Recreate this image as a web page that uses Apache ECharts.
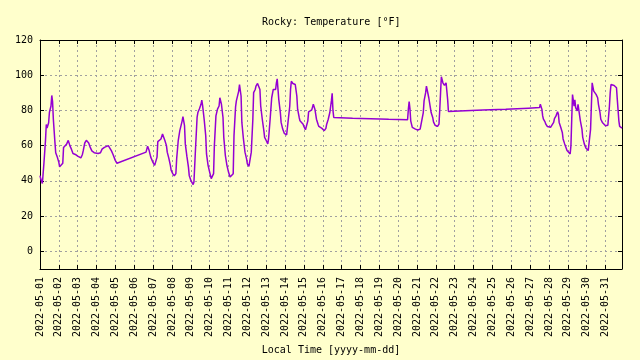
<!DOCTYPE html>
<html>
<head>
<meta charset="utf-8">
<script src="https://cdn.jsdelivr.net/npm/echarts@6/dist/echarts.min.js"></script>
<style>
html,body{margin:0;padding:0;background:#ffffcc;}
#chart{width:640px;height:360px;}
</style>
</head>
<body>
<div id="chart"></div>
<script>
// ---- data ----
const chartTitle = 'Rocky: Temperature [°F]';
const xAxisTitle = 'Local Time [yyyy-mm-dd]';
const startDateUTC = Date.UTC(2022, 4, 1);   // 2022-05-01 00:00
const endHours = 741;                        // last sample, hours after start
const yTickValues = [0, 20, 40, 60, 80, 100, 120];

// hours after 2022-05-01 00:00
const hoursSinceStart = [
  0,1,3,5,7,8,9,11,12,14,15,16,17,19,20,22,24,25,27,29,30,32,34,36,37,38,40,42,45,48,
  50,52,54,55,57,59,60,62,64,66,69,71,74,77,79,82,84,87,88,91,93,96,98,99,
  135,137,139,141,144,146,147,149,150,152,154,156,157,159,161,162,164,166,167,169,
  171,173,174,176,178,179,181,182,184,185,187,189,190,192,195,196,198,200,201,203,
  205,206,207,209,211,212,214,216,218,219,221,222,224,226,228,229,231,233,234,236,
  238,240,242,244,246,247,249,250,251,253,254,256,257,259,261,263,264,266,268,269,
  271,272,274,275,277,278,280,281,283,285,286,288,290,291,293,295,297,298,300,301,
  302,304,306,307,309,311,312,314,316,318,319,320,322,324,325,327,328,330,331,333,
  335,336,338,339,341,342,344,346,348,349,350,352,354,355,357,359,360,362,364,365,
  367,369,371,372,373,374,
  398,444,468,469,470,471,472,474,476,478,479,481,483,484,486,488,489,491,492,494,
  495,497,498,500,501,503,505,506,508,509,510,511,513,514,515,517,518,519,520,
  534,564,593,622,636,637,638,639,640,641,643,644,646,648,650,652,654,655,657,659,
  660,661,663,665,666,668,670,671,673,675,676,677,678,680,681,682,684,685,686,688,
  690,691,693,695,696,698,700,701,702,703,705,707,708,710,711,713,714,716,718,720,
  721,723,725,726,727,729,731,732,734,735,737,738,739,741
];

// temperature [°F]
const temperatureF = [
  43,41,38.5,50,63,72,70,73,79,82.5,88.5,85,75,62,56,53.5,50.5,48,47,50,59,58.5,61,63,64,60,58,55.5,55,54,
  53.5,53,55,57,61.5,63,63,61.5,59,57,56,56,55.5,56,58,59,59.5,60,59,57,55,51.5,50,51,
  56.3,59.7,57.2,53.5,50.3,48.8,49.7,53.5,62.3,62.9,63.8,66.6,65.7,62.9,60,56.3,52.9,48.8,46,44.1,
  42.8,44.1,52.5,62.9,68.5,69.4,74.1,76.5,71.3,61,54,47.8,43.1,40.3,37.9,39.4,58.2,76,78.8,81,
  83.5,85.9,82.9,75,65.7,55.3,48.8,45,41.3,40.9,44.1,60,76.9,80.7,82.5,87.2,83.5,76,64.7,54.4,
  48.8,45,42.2,41.3,44.1,65.7,82,85.4,86.3,91,94.7,88.2,73.2,63.8,56.3,52.5,49.7,48.2,48.8,56.3,
  75,90.1,91.9,93.8,95.3,96,91.9,82.5,75,68.5,64.7,62.9,61,63.8,75,87.2,91.9,92.9,91.9,95.7,
  97.9,86.3,78.8,73.2,69.4,67,66.1,66.1,66.6,82.5,91.9,96.6,95.3,95.3,94.7,88.2,80.7,76,74.1,73.5,
  72.2,70.9,69,69.8,74.1,79.2,79.7,80.3,83.5,84.4,80.7,75,72.2,70.9,70.4,69.8,69,68.5,69.8,72.2,
  75,78.8,85.4,89.7,80,76,
  75.6,75,74.7,80.7,85,81,74.1,70.4,69.8,69.4,69,68.9,68.1,69.4,74.1,78.8,85.4,90.1,93.8,94.7,
  87.2,81.6,78.8,76,73.5,71.6,70.9,70.9,72.2,80.7,90.1,99.1,95.7,96.6,94.2,95.7,94.7,86.3,79.4,
  79.7,80.2,80.7,81.3,81.6,83.5,84.4,80.7,76.9,75,73.5,72.2,70.9,70.4,70.4,71.3,73.2,75.4,76.9,79.2,
  77.9,73.2,70.4,67.5,63.8,61,58.5,57.2,56.3,55.3,60,75,89,82.5,86,81.6,79.7,83.5,82.5,74.1,
  69.4,64.7,61,58.7,57.8,57.2,58.2,69.4,82.5,95.7,91,90.1,89.1,87.2,83.5,78.8,75,73.2,72.2,71.3,
  71.3,71.6,82.5,90.1,94.7,93.8,94.2,93.8,92.9,86.3,74.1,70.9,70.4,70
];

// ---- chart ----
const HOUR = 3600000, DAY = 86400000;
const FONT = '"DejaVu Sans Mono", "Liberation Mono", monospace';
const seriesData = hoursSinceStart.map((h, i) => [startDateUTC + h * HOUR, temperatureF[i]]);
const xMin = startDateUTC, xMax = startDateUTC + endHours * HOUR;

const gridLine = { show: true, lineStyle: { color: '#a0a0a0', width: 1, type: [2, 3] } };
const dateFmt = v => ((v - startDateUTC) % DAY === 0) ? new Date(v).toISOString().slice(0, 10) : '';
const yFmt = v => (yTickValues.indexOf(v) >= 0 ? String(v) : '');

const chart = echarts.init(document.getElementById('chart'), null, { renderer: 'canvas' });
chart.setOption({
  animation: false,
  backgroundColor: '#ffffcc',
  textStyle: { fontFamily: FONT },
  title: {
    text: chartTitle, left: 262, top: 17, padding: 0,
    textStyle: { fontFamily: FONT, fontSize: 10, fontWeight: 'normal', color: '#000' }
  },
  grid: { left: 40, right: 18, top: 40, bottom: 89, containLabel: false },
  xAxis: [{
    type: 'value', min: xMin, max: xMax, interval: DAY, position: 'bottom',
    name: xAxisTitle, nameLocation: 'middle', nameGap: 74,
    nameTextStyle: { fontFamily: FONT, fontSize: 10, color: '#000' },
    axisLine: { show: true, onZero: false, lineStyle: { color: '#000', width: 1 } },
    axisTick: { show: true, inside: true, length: 4, lineStyle: { color: '#000' } },
    axisLabel: { rotate: 90, margin: 8, formatter: dateFmt, fontFamily: FONT, fontSize: 10, color: '#000', showMinLabel: true, showMaxLabel: true },
    splitLine: gridLine
  }, {
    type: 'value', min: xMin, max: xMax, interval: DAY, position: 'top',
    axisLine: { show: true, onZero: false, lineStyle: { color: '#000', width: 1 } },
    axisTick: { show: true, inside: true, length: 4, lineStyle: { color: '#000' } },
    axisLabel: { show: false }, splitLine: { show: false }
  }],
  yAxis: [{
    type: 'value', min: -10, max: 120, splitNumber: 6, position: 'left',
    axisLine: { show: true, onZero: false, lineStyle: { color: '#000', width: 1 } },
    axisTick: { show: true, inside: true, length: 4, lineStyle: { color: '#000' } },
    axisLabel: { margin: 7, formatter: yFmt, fontFamily: FONT, fontSize: 10, color: '#000' },
    splitLine: gridLine
  }, {
    type: 'value', min: -10, max: 120, splitNumber: 6, position: 'right',
    axisLine: { show: true, onZero: false, lineStyle: { color: '#000', width: 1 } },
    axisTick: { show: true, inside: true, length: 4, lineStyle: { color: '#000' } },
    axisLabel: { show: false }, splitLine: { show: false }
  }],
  series: [{
    type: 'line', xAxisIndex: 0, yAxisIndex: 0, data: seriesData,
    showSymbol: false, symbol: 'none',
    lineStyle: { color: '#9400d3', width: 1.5 },
    itemStyle: { color: '#9400d3' }
  }]
});
</script>
</body>
</html>
